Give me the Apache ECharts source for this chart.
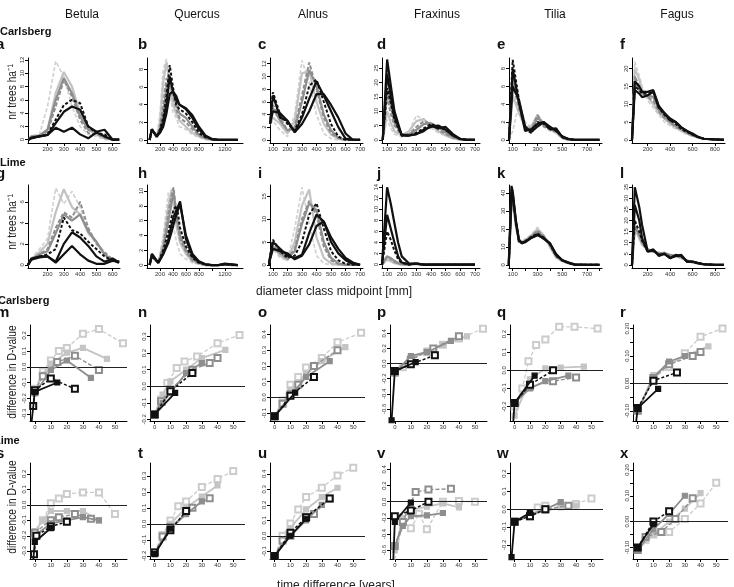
<!DOCTYPE html>
<html lang="en">
<head>
<meta charset="UTF-8">
<title>Diameter distributions and D-value differences</title>
<script src="https://cdn.jsdelivr.net/npm/echarts@6/dist/echarts.min.js"></script>
<style>
    body { margin: 0; background: #ffffff; }
    #chart { width: 734px; height: 587px; }
</style>
</head>
<body>
<div id="chart"></div>
<script>
    // ---- diameter class midpoints [mm] and tree numbers per ha ----
    // style order of the lines: light dashed, light solid, grey dashed, grey solid, black dashed, black solid, black solid
    const xA = [85, 100, 150, 200, 250, 300, 350, 400, 450, 500, 550, 600, 640];
    const yA = [
        [0, 0.6, 0.8, 5, 11.8, 9.5, 5, 2, 0.8, 0.5, 0, 0, 0],
        [0, 0.5, 0.6, 1.5, 7, 10.2, 8, 4, 1.5, 0.8, 0.2, 0, 0],
        [0, 0.5, 0.6, 1.2, 5, 9.0, 6.5, 3, 1, 0.8, 0.3, 0, 0],
        [0, 0.5, 0.6, 1.5, 6, 9.3, 7, 3.5, 1.5, 1.2, 0.3, 0, 0],
        [0, 0.3, 0.5, 0.8, 3, 5.2, 6.0, 5.5, 2, 1.0, 0.8, 0, 0],
        [0, 0.3, 0.5, 0.7, 2.5, 4.2, 5.0, 4.5, 2.0, 1.2, 1.5, 0, 0],
        [0, 0.2, 0.5, 0.7, 1.8, 1.2, 1.8, 0.8, 0.2, 1.1, 0.5, 0, 0]
    ];
    const xB = [40, 75, 150, 200, 250, 300, 350, 400, 450, 500, 600, 700, 800, 900, 1000, 1100, 1200, 1300, 1400];
    const yB = [
        [0, 1.2, 0.3, 3, 8.0, 9.2, 5.0, 3.2, 2.5, 1.5, 1.2, 0.6, 0.3, 0.1, 0, 0, 0, 0, 0],
        [0, 1.2, 0.3, 2, 6.5, 8.8, 6.5, 4.0, 3.0, 2.2, 1.5, 0.8, 0.4, 0.1, 0, 0, 0, 0, 0],
        [0, 1.2, 0.3, 1.5, 4, 7, 6.8, 5, 3.5, 2.5, 2, 1.2, 0.5, 0.2, 0, 0, 0, 0, 0],
        [0, 1.2, 0.3, 1.2, 3, 6, 7.2, 5.5, 4, 3, 2.5, 1.5, 0.6, 0.2, 0.1, 0, 0, 0, 0],
        [0, 1.2, 0.4, 1.2, 2.5, 5, 8.5, 6, 4, 3.5, 3, 2, 0.8, 0.3, 0.1, 0, 0, 0, 0],
        [0, 1.2, 0.4, 1.0, 2, 4, 7.2, 5.5, 4.5, 4, 3.5, 2.5, 1.2, 0.4, 0.1, 0, 0, 0, 0],
        [0, 1.2, 0.4, 0.8, 1.5, 3, 5.2, 5.5, 5, 4, 3.6, 2.8, 1.5, 0.5, 0.1, 0, 0, 0, 0]
    ];
    const xC = [80, 100, 150, 200, 250, 300, 350, 400, 450, 500, 550, 600, 650, 700];
    const yC = [
        [2.5, 3.0, 1.5, 0.5, 4, 12.5, 9, 4, 1, 0.2, 0, 0, 0, 0],
        [2.5, 3.5, 2.5, 1.0, 3, 10.5, 10.8, 6, 2.5, 0.8, 0.2, 0, 0, 0],
        [2.5, 5.5, 3.5, 1.5, 2, 7, 12.2, 8, 3.5, 1, 0.3, 0, 0, 0],
        [2.5, 5, 3, 1.5, 1.8, 6, 11, 8.5, 4, 1.5, 0.3, 0, 0, 0],
        [2.5, 7.5, 4, 2.5, 1.5, 4, 8.5, 9.5, 6, 2.5, 0.5, 0, 0, 0],
        [2.5, 7.0, 3.5, 3.0, 1.2, 3.5, 6.5, 9.2, 7, 4.5, 2, 0.2, 0, 0],
        [2.5, 4.5, 4.2, 3.0, 1.2, 2.5, 4.5, 7.2, 7.2, 5.5, 3.5, 1, 0, 0]
    ];
    const xD = [70, 100, 125, 150, 200, 250, 300, 350, 400, 450, 500, 550, 600, 650, 700];
    const yD = [
        [0, 7, 4, 2, 1, 3, 8.5, 7, 4, 2.5, 1.5, 0.5, 0, 0, 0],
        [0, 10, 6, 3, 1.5, 3, 6.5, 7.2, 5, 3, 1.5, 0.5, 0, 0, 0],
        [0, 15, 9, 5, 1.5, 2, 4.5, 6.5, 5.5, 3.5, 2, 0.8, 0.2, 0, 0],
        [0, 17.5, 12, 6, 1.8, 2, 3.5, 5.5, 5.8, 4.5, 2.5, 1, 0.2, 0, 0],
        [0, 18, 13, 7, 1.5, 1.5, 2.5, 4, 5.5, 4.5, 3.5, 1.5, 0.3, 0, 0],
        [0, 28, 19, 10, 1.5, 1.5, 2, 3, 5, 4, 4.5, 2, 0.3, 0, 0],
        [0, 23, 15, 8, 1.8, 1.5, 2, 3.5, 4.5, 5, 3.5, 1.5, 0.3, 0, 0]
    ];
    const xE = [70, 100, 150, 200, 250, 300, 350, 400, 450, 500, 550, 600, 700, 800];
    const yE = [
        [0, 1, 4, 2, 1.5, 2.5, 1.5, 1, 0.8, 0.2, 0, 0, 0, 0],
        [0, 5, 3, 1.5, 1.5, 2.8, 1.8, 1.2, 0.8, 0.2, 0, 0, 0, 0],
        [0, 6.5, 3.5, 1.5, 1.2, 2.8, 1.5, 1.2, 0.9, 0.2, 0, 0, 0, 0],
        [0, 7.5, 4, 1.2, 1.0, 2.5, 1.8, 1.2, 1.0, 0.3, 0, 0, 0, 0],
        [0, 9, 4.5, 1.2, 0.8, 2.0, 1.8, 1.2, 1.2, 0.3, 0.1, 0, 0, 0],
        [0, 8, 4.2, 1.0, 1.2, 1.8, 2.0, 1.2, 1.3, 0.3, 0.1, 0, 0, 0],
        [0, 6, 4.5, 1.5, 0.9, 1.5, 2.0, 1.5, 1.0, 0.4, 0.1, 0, 0, 0]
    ];
    const xF = [60, 85, 125, 150, 200, 250, 300, 350, 400, 450, 500, 550, 600, 650, 700, 800, 880];
    const yF = [
        [0, 22, 18, 15, 11, 9, 7, 5, 4, 3, 2.5, 1.5, 1, 0.5, 0.2, 0, 0],
        [0, 20, 17, 14, 12, 10, 7.5, 6, 4.5, 3.5, 2.5, 1.8, 1.2, 0.6, 0.3, 0, 0],
        [0, 18, 15, 13.5, 12, 11, 8, 6, 5, 3.5, 3, 2, 1.2, 0.7, 0.3, 0.1, 0],
        [0, 16, 14, 13, 12.5, 12, 8.5, 6.5, 5, 4, 3, 2, 1.2, 0.8, 0.3, 0.1, 0],
        [0, 15, 14, 13, 13, 13.5, 9, 7, 5.5, 4.5, 3, 2.2, 1.5, 0.8, 0.3, 0.1, 0],
        [0, 16.5, 15, 13.5, 13.5, 14, 9.5, 7.5, 5.5, 5, 3.5, 2.5, 1.5, 0.8, 0.3, 0.1, 0],
        [0, 14, 13, 12, 12.5, 13.5, 9, 7.5, 6, 5, 3.5, 2.5, 1.8, 0.8, 0.3, 0.1, 0]
    ];
    const xG = [80, 100, 150, 200, 250, 300, 350, 400, 450, 500, 550, 600, 640];
    const yG = [
        [0, 0.6, 1.5, 2.5, 7.3, 5.8, 7.0, 5.5, 3, 2, 1, 0.3, 0.2],
        [0, 0.5, 1.2, 2, 5, 7.2, 5.5, 4.8, 3, 2.2, 1, 0.4, 0.3],
        [0, 0.5, 1.0, 1.5, 3.5, 5, 4.5, 6.0, 3.5, 2, 1.2, 0.5, 0.3],
        [0, 0.5, 1.0, 1.3, 3, 4.8, 4.2, 4.8, 3.2, 2.2, 1, 0.4, 0.3],
        [0, 0.5, 0.8, 1.0, 1.5, 4.5, 3.3, 3.0, 2.2, 1.5, 0.8, 0.4, 0.2],
        [0, 0.5, 0.7, 0.8, 0.3, 2.0, 3.1, 2.6, 1.8, 0.8, 0.3, 0.6, 0.2],
        [0, 0.6, 0.8, 0.8, 0.2, 1.0, 1.8, 1.0, 0.4, 0.1, 0.1, 0.4, 0.3]
    ];
    const xH = [40, 75, 175, 250, 330, 380, 410, 460, 510, 600, 700, 800, 900, 1000, 1100, 1200, 1300, 1400];
    const yH = [
        [0, 1.5, 0.3, 4, 9.8, 7, 5, 3, 1.5, 0.8, 0.3, 0.1, 0, 0, 0, 0, 0, 0],
        [0, 1.5, 0.3, 3, 8, 10.2, 8, 5, 3, 1.5, 0.5, 0.2, 0, 0, 0, 0.1, 0, 0],
        [0, 1.5, 0.3, 2.5, 7, 9.5, 10.5, 6, 3.5, 1.8, 0.6, 0.2, 0, 0, 0, 0.1, 0, 0],
        [0, 1.5, 0.3, 2.2, 6, 8.5, 9.8, 6.5, 4, 2, 0.8, 0.3, 0, 0, 0, 0.1, 0, 0],
        [0, 1.2, 0.3, 2, 4.5, 6.5, 7.5, 8, 5, 2.5, 1, 0.3, 0.1, 0, 0, 0.1, 0, 0],
        [0, 1.5, 0.3, 1.5, 3.5, 5.5, 6.5, 7.5, 8.6, 3.5, 1.2, 0.4, 0.1, 0, 0, 0.1, 0.1, 0],
        [0, 1.2, 0.3, 1.5, 3, 4.5, 5.5, 7, 8.2, 4, 1.5, 0.5, 0.1, 0, 0, 0.2, 0.1, 0]
    ];
    const xI = [70, 100, 150, 200, 250, 300, 350, 400, 450, 500, 550, 600, 650, 700];
    const yI = [
        [0, 3.5, 1.5, 1, 8, 17, 9, 2, 0.3, 0, 0, 0, 0, 0],
        [0, 4, 2, 1, 5, 13, 16.5, 6, 1.5, 0.3, 0, 0, 0, 0],
        [0, 4.5, 2.5, 1.2, 3.5, 10, 14, 11, 4, 1, 0.2, 0, 0, 0],
        [0, 4, 2.5, 1.5, 3, 9, 13.5, 12, 5, 1.5, 0.3, 0, 0, 0],
        [0, 5.5, 3, 1.5, 2, 5, 11, 13.5, 8, 3, 1, 0.2, 0, 0],
        [0, 5, 3.5, 2, 1.5, 2.2, 7, 11, 9.5, 5, 2.5, 1, 0.2, 0],
        [0, 3.5, 3, 2.5, 1.2, 2, 4.5, 8.5, 9.5, 6, 3.5, 1.5, 0.5, 0]
    ];
    const xJ = [65, 100, 125, 150, 175, 200, 250, 300, 350, 400, 500, 600, 700];
    const yJ = [
        [0, 0.8, 0.5, 0.2, 0.1, 0, 0, 0.1, 0, 0, 0, 0, 0],
        [0, 1.0, 0.6, 0.3, 0.1, 0, 0, 0.1, 0, 0, 0, 0, 0],
        [0, 1.5, 1.0, 0.5, 0.2, 0.1, 0, 0.2, 0, 0, 0, 0, 0],
        [0, 1.5, 1.2, 0.7, 0.3, 0.1, 0, 0.2, 0, 0, 0, 0, 0],
        [0, 6, 4.5, 2.5, 1, 0.3, 0, 0.2, 0, 0, 0, 0, 0],
        [0, 14, 11, 7.5, 4, 1.5, 0.2, 0.2, 0, 0, 0, 0, 0],
        [0, 9, 6.5, 4, 1.5, 0.4, 0.1, 0.2, 0, 0, 0, 0, 0]
    ];
    const xK = [68, 90, 100, 125, 150, 175, 200, 250, 300, 350, 400, 450, 500, 550, 600, 700, 800];
    const yK = [
        [0, 30, 34, 20, 14, 13, 14, 17, 21, 16, 10, 4, 2, 1, 0, 0, 0],
        [0, 35, 38, 22, 14, 12.5, 14, 16, 20, 16.5, 10, 4, 2, 1, 0, 0, 0],
        [0, 38, 40, 22, 14, 12, 13.5, 16, 19, 16, 11, 4.5, 2.2, 0.8, 0, 0, 0],
        [0, 40, 41, 24, 14, 12, 13, 16, 18.5, 15.5, 11, 5, 2.2, 0.8, 0, 0, 0],
        [0, 42, 43, 25, 13, 12, 13, 15.5, 17.5, 15, 11.5, 5, 2.5, 1, 0, 0, 0],
        [0, 44, 41, 25, 14, 12, 13, 15, 17, 14.5, 12, 5.5, 2.5, 1.2, 0, 0, 0],
        [0, 36, 40, 24, 13, 12.5, 12.5, 15, 16.5, 15, 12, 6, 2.5, 1.2, 0.2, 0, 0]
    ];
    const xL = [60, 85, 125, 150, 200, 250, 300, 350, 400, 450, 500, 550, 600, 650, 700, 800, 880];
    const yL = [
        [0, 17, 12, 9, 7, 6, 5, 5, 4, 3.5, 3, 2, 1.2, 0.5, 0.2, 0, 0],
        [0, 16, 12, 9, 7, 6, 5.5, 5, 4.5, 4, 3, 2, 1.2, 0.6, 0.2, 0, 0],
        [0, 18, 13, 10, 7, 6.5, 5, 5, 4, 4, 3.5, 2, 1.2, 0.6, 0.2, 0, 0],
        [0, 17, 14, 10, 6.5, 6, 5, 5.5, 4.5, 4, 3.5, 2, 1.3, 0.8, 0.3, 0, 0],
        [0, 20, 15, 11, 6, 6.5, 4.5, 5, 3.5, 4, 4, 1.5, 1.2, 0.8, 0.3, 0, 0],
        [0, 35, 26, 18, 6, 6.5, 4.5, 5, 3, 4.5, 4, 1.5, 1.5, 0.8, 0.3, 0, 0],
        [0, 27, 20, 12, 6, 7, 4, 5, 3, 4, 4.5, 1.5, 1.5, 0.8, 0.3, 0, 0]
    ];

    // ---- difference in D-value against time difference [years] ----
    // order: light dashed, light solid, grey dashed, grey solid, black dashed, black solid
    const dM = [
        [[0, -0.14], [5, -0.03], [10, 0.04], [15, 0.1], [20, 0.12], [30, 0.21], [40, 0.24], [55, 0.15]],
        [[0, -0.15], [5, -0.05], [10, 0.02], [20, 0.09], [30, 0.12], [45, 0.05]],
        [[0, -0.16], [5, -0.06], [14, 0.03], [25, 0.07], [40, -0.02]],
        [[0, -0.17], [10, -0.02], [20, 0.04], [35, -0.07]],
        [[-1, -0.25], [0, -0.15], [10, -0.075], [25, -0.14]],
        [[-2, -0.35], [0, -0.16], [14, -0.1]]
    ];
    const dN = [
        [[0, -0.17], [4, -0.08], [8, 0.02], [14, 0.11], [19, 0.15], [27, 0.18], [40, 0.26], [54, 0.31]],
        [[0, -0.17], [5, -0.05], [10, 0.03], [20, 0.1], [30, 0.17], [45, 0.22]],
        [[0, -0.17], [4, -0.09], [10, -0.02], [24, 0.1], [35, 0.14], [40, 0.17]],
        [[0, -0.17], [5, -0.1], [10, -0.04], [20, 0.08], [30, 0.14]],
        [[0, -0.17], [10, -0.03], [24, 0.08]],
        [[0, -0.17], [13, -0.04]]
    ];
    const dO = [
        [[0, -0.12], [5, -0.02], [10, 0.08], [15, 0.13], [20, 0.19], [30, 0.25], [40, 0.35], [55, 0.41]],
        [[0, -0.12], [5, -0.03], [10, 0.05], [20, 0.15], [30, 0.23], [45, 0.32]],
        [[0, -0.12], [5, -0.04], [10, 0.02], [15, 0.08], [25, 0.2], [40, 0.3]],
        [[0, -0.12], [10, 0.01], [20, 0.13], [35, 0.23]],
        [[0, -0.12], [10, 0.01], [25, 0.13]],
        [[0, -0.12], [13, 0.03]]
    ];
    const dP = [
        [[0, -0.12], [5, -0.05], [10, 0.05], [20, 0.15], [30, 0.25], [40, 0.33], [55, 0.46]],
        [[0, -0.12], [10, 0.06], [20, 0.17], [30, 0.25], [45, 0.36]],
        [[0, -0.12], [10, 0.05], [24, 0.2], [40, 0.36]],
        [[0, -0.12], [10, 0.1], [20, 0.15], [35, 0.3]],
        [[0, -0.1], [10, -0.01], [25, 0.11]],
        [[-2, -0.75], [0, -0.1], [13, 0.02]]
    ];
    const dQ = [
        [[0, -0.2], [5, -0.1], [9, 0.05], [14, 0.14], [20, 0.17], [29, 0.24], [39, 0.24], [54, 0.23]],
        [[0, -0.25], [10, -0.05], [20, 0.01], [30, 0.015], [45, 0.02]],
        [[0, -0.18], [10, -0.09], [25, -0.06], [40, -0.04]],
        [[0, -0.18], [10, -0.1], [20, -0.06], [35, -0.03]],
        [[0, -0.18], [10, -0.08], [25, 0.0]],
        [[-1, -0.3], [0, -0.18], [13, -0.03]]
    ];
    const dR = [
        [[0, -0.1], [10, 0.02], [20, 0.06], [30, 0.11], [40, 0.17], [54, 0.2]],
        [[0, -0.1], [10, 0.03], [20, 0.07], [30, 0.1], [45, 0.135]],
        [[0, -0.1], [10, 0.02], [20, 0.07], [35, 0.1], [40, 0.115]],
        [[0, -0.1], [10, 0.02], [20, 0.08], [30, 0.1]],
        [[0, -0.09], [10, 0.01], [25, 0.04]],
        [[-1, -0.14], [0, -0.09], [13, -0.02]]
    ];
    const dS = [
        [[0, -0.2], [5, -0.1], [10, 0.01], [15, 0.04], [20, 0.07], [30, 0.08], [40, 0.08], [50, -0.06]],
        [[0, -0.17], [5, -0.1], [10, -0.04], [20, -0.04], [30, -0.04], [40, -0.1]],
        [[0, -0.18], [10, -0.1], [15, -0.08], [25, -0.06], [35, -0.09]],
        [[0, -0.2], [10, -0.12], [20, -0.1], [30, -0.08], [40, -0.1]],
        [[-0.5, -0.32], [1, -0.2], [10, -0.14], [20, -0.11]],
        [[-1, -0.36], [0, -0.24], [10, -0.15]]
    ];
    const dT = [
        [[0, -0.18], [5, -0.07], [10, 0.02], [15, 0.11], [20, 0.14], [30, 0.23], [40, 0.28], [50, 0.33]],
        [[0, -0.18], [10, 0.0], [20, 0.1], [30, 0.17], [40, 0.24]],
        [[0, -0.18], [5, -0.08], [10, -0.02], [24, 0.1], [35, 0.16]],
        [[0, -0.18], [10, -0.03], [20, 0.06], [30, 0.14]],
        [[0, -0.18], [10, -0.04], [20, 0.08]],
        [[0, -0.19], [10, -0.03]]
    ];
    const dU = [
        [[0, -0.13], [5, 0.0], [10, 0.08], [15, 0.17], [20, 0.25], [30, 0.31], [40, 0.39], [50, 0.44]],
        [[0, -0.13], [10, 0.05], [20, 0.17], [30, 0.25], [40, 0.31]],
        [[0, -0.13], [5, -0.03], [10, 0.0], [20, 0.12], [25, 0.14], [35, 0.24]],
        [[0, -0.13], [10, 0.0], [20, 0.1], [30, 0.2]],
        [[0, -0.13], [10, 0.02], [20, 0.12], [35, 0.24]],
        [[0, -0.13], [10, 0.0], [20, 0.11]]
    ];
    const dV = [
        [[0, -0.72], [5, -0.25], [10, -0.33], [15, -0.15], [20, -0.34], [30, 0.0], [40, 0.01], [50, 0.0]],
        [[0, -0.6], [5, -0.2], [10, -0.1], [20, -0.06], [30, -0.02], [40, -0.07]],
        [[0, -0.55], [5, -0.25], [13, 0.12], [21, 0.15], [35, 0.16]],
        [[0, -0.55], [5, -0.3], [10, -0.18], [20, -0.17], [30, -0.14]],
        [[0, -0.18], [10, -0.11], [21, 0.0]],
        [[-1, -0.75], [0, -0.25], [10, -0.01]]
    ];
    const dW = [
        [[0, -0.07], [10, -0.03], [15, 0.01], [20, 0.02], [30, 0.02], [40, 0.03], [50, 0.06]],
        [[0, -0.07], [10, -0.03], [20, -0.01], [30, 0.01], [40, 0.02]],
        [[0, -0.07], [10, -0.04], [20, 0.0], [35, 0.02]],
        [[0, -0.07], [10, -0.03], [20, 0.0], [30, 0.04]],
        [[0, -0.07], [10, -0.04], [20, 0.0]],
        [[-2, -0.27], [0, -0.07], [10, -0.02]]
    ];
    const dX = [
        [[0, -0.11], [5, -0.07], [10, -0.05], [20, -0.04], [30, 0.01], [40, 0.07], [50, 0.15]],
        [[0, -0.11], [10, -0.05], [20, 0.0], [30, 0.05], [40, 0.11]],
        [[0, -0.11], [5, -0.06], [15, -0.04], [24, 0.01], [35, 0.09]],
        [[0, -0.11], [10, -0.03], [20, 0.03], [30, 0.1]],
        [[0, -0.1], [10, 0.0], [20, 0.04]],
        [[0, -0.1], [10, -0.01]]
    ];

    // ---- tick labels ----
    const ticksBetula = [200, 300, 400, 500, 600];
    const ticksQuercus = [200, 400, 600, 800, 1200];
    const ticksQuercusMinor = [200, 400, 600, 800, 1000, 1200];
    const ticksAlnus = [100, 200, 300, 400, 500, 600, 700];
    const ticksTilia = [100, 300, 500, 700];
    const ticksTiliaMinor = [100, 200, 300, 400, 500, 600, 700, 800];
    const ticksFagus = [200, 400, 600, 800];
    const ticksYears = [0, 10, 20, 30, 40, 50];

    const species = ['Betula', 'Quercus', 'Alnus', 'Fraxinus', 'Tilia', 'Fagus'];

    // layout
    const colLeftD = [28, 147, 270, 382, 509, 632];
    const colWidthD = [92, 96, 93, 98, 93, 93];
    const colLeftT = [30, 150, 270, 390, 510, 633];
    const colWidthT = [97, 95, 95, 97, 93, 95];
    const rowTop = [58, 185, 325, 463];
    const rowHeight = [85, 83, 96, 96];

    const distPanels = [
        { x: xA, y: yA, xr: [80, 645], yr: [-0.5, 12.3], xl: ticksBetula, xt: ticksBetula, yl: [0, 2, 4, 6, 8, 10, 12] },
        { x: xB, y: yB, xr: [0, 1480], yr: [-0.35, 9.3], xl: ticksQuercus, xt: ticksQuercusMinor, yl: [0, 2, 4, 6, 8] },
        { x: xC, y: yC, xr: [80, 720], yr: [-0.5, 12.9], xl: ticksAlnus, xt: ticksAlnus, yl: [0, 2, 4, 6, 8, 10, 12] },
        { x: xD, y: yD, xr: [65, 735], yr: [-1.1, 28.5], xl: ticksAlnus, xt: ticksAlnus, yl: [0, 5, 10, 15, 20, 25] },
        { x: xE, y: yE, xr: [70, 820], yr: [-0.35, 9.2], xl: ticksTilia, xt: ticksTiliaMinor, yl: [0, 2, 4, 6, 8] },
        { x: xF, y: yF, xr: [60, 890], yr: [-0.9, 23], xl: ticksFagus, xt: ticksFagus, yl: [0, 5, 10, 15, 20] },
        { x: xG, y: yG, xr: [80, 645], yr: [-0.3, 7.6], xl: ticksBetula, xt: ticksBetula, yl: [0, 2, 4, 6] },
        { x: xH, y: yH, xr: [0, 1480], yr: [-0.4, 10.8], xl: ticksQuercus, xt: ticksQuercusMinor, yl: [0, 2, 4, 6, 8, 10] },
        { x: xI, y: yI, xr: [80, 720], yr: [-0.7, 17.5], xl: ticksAlnus, xt: ticksAlnus, yl: [0, 5, 10, 15] },
        { x: xJ, y: yJ, xr: [65, 735], yr: [-0.6, 14.4], xl: ticksAlnus, xt: ticksAlnus, yl: [0, 2, 4, 6, 8, 10, 12, 14] },
        { x: xK, y: yK, xr: [70, 820], yr: [-1.8, 44.5], xl: ticksTilia, xt: ticksTiliaMinor, yl: [0, 10, 20, 30, 40] },
        { x: xL, y: yL, xr: [60, 890], yr: [-1.4, 36], xl: ticksFagus, xt: ticksFagus, yl: [0, 5, 10, 15, 20, 25, 30, 35] }
    ];
    const dvPanels = [
        { d: dM, yr: [-0.345, 0.266], yl: [-0.3, -0.2, -0.1, 0, 0.1, 0.2] },
        { d: dN, yr: [-0.21, 0.37], yl: [-0.2, -0.1, 0, 0.1, 0.2, 0.3] },
        { d: dO, yr: [-0.15, 0.46], yl: [-0.1, 0, 0.1, 0.2, 0.3, 0.4] },
        { d: dP, yr: [-0.76, 0.51], yl: [-0.6, -0.4, -0.2, 0, 0.2, 0.4] },
        { d: dQ, yr: [-0.28, 0.25], yl: [-0.2, -0.1, 0, 0.1, 0.2] },
        { d: dR, yr: [-0.137, 0.213], yl: [-0.1, 0, 0.1, 0.2], yt: [-0.1, -0.05, 0, 0.05, 0.1, 0.15, 0.2], dec: 2 },
        { d: dS, yr: [-0.35, 0.27], yl: [-0.3, -0.2, -0.1, 0, 0.1, 0.2] },
        { d: dT, yr: [-0.22, 0.38], yl: [-0.2, -0.1, 0, 0.1, 0.2, 0.3] },
        { d: dU, yr: [-0.15, 0.47], yl: [-0.1, 0, 0.1, 0.2, 0.3, 0.4] },
        { d: dV, yr: [-0.71, 0.48], yl: [-0.6, -0.4, -0.2, 0, 0.2, 0.4] },
        { d: dW, yr: [-0.28, 0.26], yl: [-0.2, -0.1, 0, 0.1, 0.2] },
        { d: dX, yr: [-0.145, 0.227], yl: [-0.1, 0, 0.1, 0.2], yt: [-0.1, -0.05, 0, 0.05, 0.1, 0.15, 0.2], dec: 2 }
    ];

    const distStyle = [
        { color: '#d2d2d2', width: 1.7, type: [4, 2] },
        { color: '#c2c2c2', width: 2.2, type: 'solid' },
        { color: '#8e8e8e', width: 2, type: [4, 2] },
        { color: '#8e8e8e', width: 2.2, type: 'solid' },
        { color: '#111111', width: 2, type: [3, 2] },
        { color: '#111111', width: 2.2, type: 'solid' },
        { color: '#111111', width: 2.2, type: 'solid' }
    ];
    const dvStyle = [
        { color: '#cccccc', type: [4, 2], width: 1.3, symbol: 'emptyRect', size: 6 },
        { color: '#c4c4c4', type: 'solid', width: 1.8, symbol: 'rect', size: 5 },
        { color: '#8e8e8e', type: [4, 2], width: 1.3, symbol: 'emptyRect', size: 6 },
        { color: '#8e8e8e', type: 'solid', width: 1.8, symbol: 'rect', size: 5 },
        { color: '#111111', type: [3, 2], width: 1.5, symbol: 'emptyRect', size: 6 },
        { color: '#111111', type: 'solid', width: 1.8, symbol: 'rect', size: 5 }
    ];

    const grids = [], xAxes = [], yAxes = [], series = [];

    function makeAxis(range, labels, ticks, rotate, fmt) {
        return {
            type: 'value',
            min: range[0],
            max: range[1],
            axisLine: { show: true, onZero: false, lineStyle: { color: '#000', width: 1 } },
            axisTick: { show: true, length: 3, customValues: ticks, lineStyle: { color: '#000', width: 1 } },
            axisLabel: {
                customValues: labels,
                fontSize: 6,
                color: '#333',
                margin: 3,
                rotate: rotate,
                hideOverlap: false,
                fontFamily: 'Liberation Sans, Arial, sans-serif',
                formatter: fmt || (v => String(v))
            },
            splitLine: { show: false }
        };
    }

    distPanels.forEach((p, i) => {
        const row = Math.floor(i / 6), col = i % 6;
        grids.push({ left: colLeftD[col], top: rowTop[row], width: colWidthD[col], height: rowHeight[row] });
        const idx = grids.length - 1;
        xAxes.push(Object.assign(makeAxis(p.xr, p.xl, p.xt, 0), { gridIndex: idx }));
        yAxes.push(Object.assign(makeAxis(p.yr, p.yl, p.yl, 90), { gridIndex: idx }));
        p.y.forEach((vals, k) => {
            const s = distStyle[k];
            series.push({
                type: 'line',
                xAxisIndex: idx,
                yAxisIndex: idx,
                data: p.x.map((x, j) => [x, vals[j]]),
                showSymbol: false,
                symbol: 'none',
                silent: true,
                lineStyle: { color: s.color, width: s.width, type: s.type },
                z: 2 + k
            });
        });
    });

    dvPanels.forEach((p, i) => {
        const row = 2 + Math.floor(i / 6), col = i % 6;
        grids.push({ left: colLeftT[col], top: rowTop[row], width: colWidthT[col], height: rowHeight[row] });
        const idx = grids.length - 1;
        const dec = p.dec || 1;
        xAxes.push(Object.assign(makeAxis([-3, 57.5], ticksYears, ticksYears, 0), { gridIndex: idx }));
        yAxes.push(Object.assign(makeAxis(p.yr, p.yl, p.yt || p.yl, 90, v => v.toFixed(dec)), { gridIndex: idx }));
        p.d.forEach((pts, k) => {
            const s = dvStyle[k];
            const ser = {
                type: 'line',
                xAxisIndex: idx,
                yAxisIndex: idx,
                data: pts,
                symbol: s.symbol,
                symbolSize: s.size,
                showSymbol: true,
                silent: true,
                lineStyle: { color: s.color, width: s.width, type: s.type },
                itemStyle: { color: s.color, borderColor: s.color, borderWidth: 1.2 },
                z: 2 + k
            };
            if (k === 0) {
                ser.markLine = {
                    silent: true,
                    symbol: ['none', 'none'],
                    label: { show: false },
                    lineStyle: { color: '#222', width: 1.2, type: 'solid' },
                    data: [{ yAxis: 0 }]
                };
            }
            series.push(ser);
        });
    });

    // texts
    const font = 'Liberation Sans, Arial, sans-serif';
    const graphic = [];
    const headerX = [82, 197, 313, 437, 555, 677];
    species.forEach((s, i) => {
        graphic.push({ type: 'text', x: headerX[i], y: 15, style: { text: s, font: '12px ' + font, fill: '#111', textAlign: 'center', textVerticalAlign: 'middle' } });
    });
    const rowNames = [['Carlsberg', 0, 37], ['Lime', 0, 168], ['Carlsberg', -2, 306], ['Lime', -6, 446]];
    rowNames.forEach(r => {
        graphic.push({ type: 'text', x: r[1], y: r[2], style: { text: r[0], font: 'bold 11px ' + font, fill: '#111', textVerticalAlign: 'bottom' } });
    });
    const letters = 'abcdefghijklmnopqrstuvwx'.split('');
    const letterX = [-4, 138, 258, 377, 497, 620];
    const letterY = [52, 181, 320, 461];
    letters.forEach((l, i) => {
        graphic.push({ type: 'text', x: letterX[i % 6], y: letterY[Math.floor(i / 6)], style: { text: l, font: 'bold 15px ' + font, fill: '#111', textVerticalAlign: 'bottom' } });
    });
    const yTitles = [['nr trees ha\u207B\u00B9', 92], ['nr trees ha\u207B\u00B9', 222], ['difference in D-value', 372], ['difference in D-value', 507]];
    yTitles.forEach(t => {
        graphic.push({ type: 'text', x: 13, y: t[1], rotation: Math.PI / 2, scaleX: 0.85, style: { text: t[0], font: '12px ' + font, fill: '#222', textAlign: 'center', textVerticalAlign: 'middle' } });
    });
    graphic.push({ type: 'text', x: 334, y: 292, style: { text: 'diameter class midpoint [mm]', font: '12px ' + font, fill: '#222', textAlign: 'center', textVerticalAlign: 'middle' } });
    graphic.push({ type: 'text', x: 336, y: 580, style: { text: 'time difference [years]', font: '12px ' + font, fill: '#222', textAlign: 'center', textVerticalAlign: 'top' } });

    const chart = echarts.init(document.getElementById('chart'), null, { renderer: 'canvas' });
    chart.setOption({
        animation: false,
        backgroundColor: '#ffffff',
        grid: grids,
        xAxis: xAxes,
        yAxis: yAxes,
        series: series,
        graphic: graphic
    });
</script>
</body>
</html>
